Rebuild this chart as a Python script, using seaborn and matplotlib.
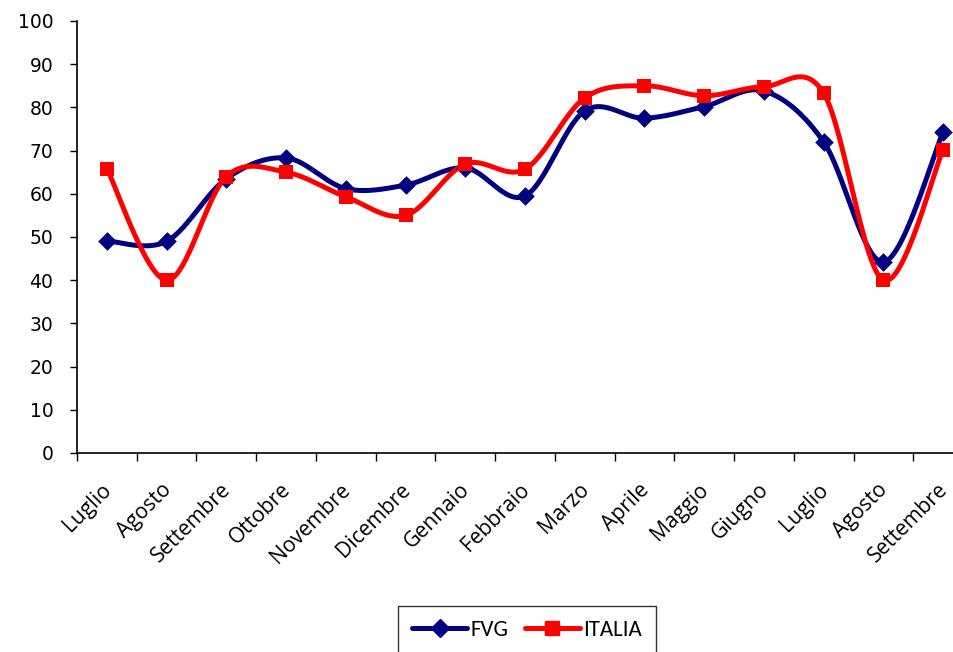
import numpy as np
import pandas as pd
import matplotlib
matplotlib.use('Agg')
import matplotlib.pyplot as plt
import matplotlib.transforms as mtransforms
from matplotlib.lines import Line2D
import seaborn as sns

# Data
months = ['Luglio', 'Agosto', 'Settembre', 'Ottobre', 'Novembre', 'Dicembre',
          'Gennaio', 'Febbraio', 'Marzo', 'Aprile', 'Maggio', 'Giugno',
          'Luglio', 'Agosto', 'Settembre']
fvg = [49.1, 49.0, 63.5, 68.3, 61.2, 62.0, 66.0, 59.5, 79.2, 77.5, 80.2, 83.8, 72.0, 44.2, 74.3]
italia = [65.8, 40.0, 64.0, 65.0, 59.3, 55.0, 66.9, 65.7, 82.2, 85.0, 82.7, 84.8, 83.3, 40.0, 70.2]

df = pd.DataFrame({'idx': np.arange(len(months)), 'FVG': fvg, 'ITALIA': italia})


def smooth(y, n=30):
    # Excel-like smoothed line (Catmull-Rom via cubic Bezier)
    y = np.asarray(y, dtype=float)
    x = np.arange(len(y), dtype=float)
    px = np.concatenate([[x[0]], x, [x[-1]]])
    py = np.concatenate([[y[0]], y, [y[-1]]])
    t = np.linspace(0, 1, n)[:, None]
    xs, ys = [], []
    for i in range(1, len(px) - 2):
        p0 = np.array([px[i], py[i]])
        p3 = np.array([px[i + 1], py[i + 1]])
        c1 = p0 + (np.array([px[i + 1], py[i + 1]]) - np.array([px[i - 1], py[i - 1]])) / 6
        c2 = p3 - (np.array([px[i + 2], py[i + 2]]) - np.array([px[i], py[i]])) / 6
        b = ((1 - t) ** 3) * p0 + 3 * ((1 - t) ** 2) * t * c1 + 3 * (1 - t) * t ** 2 * c2 + t ** 3 * p3
        xs.append(b[:, 0])
        ys.append(b[:, 1])
    return np.concatenate(xs), np.concatenate(ys)


sns.set_style('white')
plt.rcParams['font.family'] = ['DejaVu Sans']
plt.rcParams['text.color'] = 'black'
plt.rcParams['xtick.color'] = 'black'
plt.rcParams['ytick.color'] = 'black'

fig = plt.figure(figsize=(9.54, 6.52), dpi=100)
ax = fig.add_axes([77 / 954, 1 - 453 / 652, (973 - 77) / 954, (453 - 21) / 652])

series = [('FVG', '#000080', 'D', 9.5), ('ITALIA', '#FF0000', 's', 10.5)]
for name, color, marker, ms in series:
    sx, sy = smooth(df[name])
    sns.lineplot(x=sx, y=sy, ax=ax, color=color, linewidth=3.6, sort=False, zorder=2)
    sns.scatterplot(x='idx', y=name, data=df, ax=ax, color=color, marker=marker,
                    s=ms ** 2, edgecolor=color, linewidth=0, zorder=3)

ax.set_xlim(-0.5, len(months) - 0.5)
ax.set_ylim(0, 100)
ax.set_yticks(np.arange(0, 101, 10))
ax.tick_params(axis='y', which='major', direction='out', length=5, width=1,
               color='black', labelcolor='black', labelsize=13.5, pad=12, left=True)
ax.set_xticks(np.arange(len(months)))
ax.tick_params(axis='x', which='major', length=0, pad=16)
ax.set_xticks(np.arange(-0.5, len(months), 1), minor=True)
ax.tick_params(axis='x', which='minor', direction='out', length=6, width=1,
               color='black', bottom=True)
ax.set_xticklabels(months, rotation=45, ha='right', rotation_mode='anchor', color='black')
shift = mtransforms.ScaledTranslation(-6 / 100, -4 / 100, fig.dpi_scale_trans)
for lab in ax.get_xticklabels():
    lab.set_fontfamily(['Open Sans', 'DejaVu Sans'])
    lab.set_fontsize(15.2)
    lab.set_transform(lab.get_transform() + shift)
ax.set_xlabel('')
ax.set_ylabel('')
for side in ['top', 'right']:
    ax.spines[side].set_visible(False)
for side in ['left', 'bottom']:
    ax.spines[side].set_color('black')
    ax.spines[side].set_linewidth(1.2)

handles = [Line2D([], [], color=c, marker=m, markersize=ms, linewidth=3.6, label=n)
           for n, c, m, ms in series]
leg = fig.legend(handles=handles, loc='upper center', bbox_to_anchor=(527 / 954, 1 - 606 / 652),
                 ncol=2, frameon=True, fancybox=False, edgecolor='black', borderaxespad=0,
                 prop={'family': ['Carlito', 'DejaVu Sans'], 'size': 16.5},
                 handlelength=2.4, columnspacing=0.7, handletextpad=0.15, borderpad=0.6)
leg.get_frame().set_linewidth(1.0)

fig.savefig('out.png', dpi=100)
